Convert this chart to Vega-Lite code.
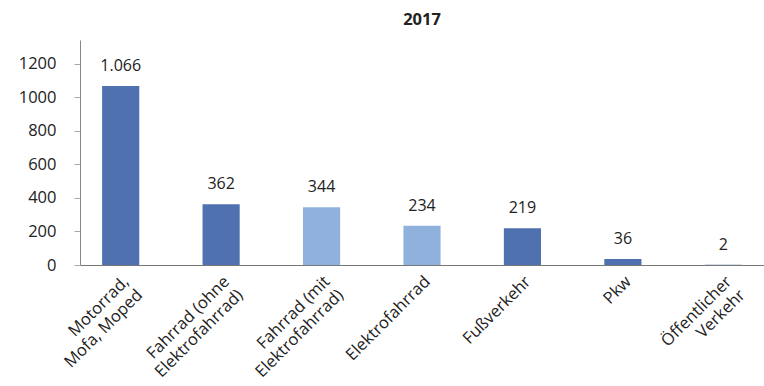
{
  "$schema": "https://vega.github.io/schema/vega-lite/v6.json",
  "autosize": "none",
  "width": 684,
  "height": 225,
  "padding": {"left": 80, "top": 40, "right": 0, "bottom": 121},
  "background": "white",
  "title": {"text": "2017", "fontSize": 16.5, "font": "Open Sans", "fontWeight": "bold", "color": "#222", "offset": 12, "anchor": "middle"},
  "config": {"view": {"stroke": null}, "font": "Open Sans"},
  "data": {"values": [
    {"cat": "Motorrad,|Mofa, Moped", "value": 1066, "label": "1.066", "group": "dunkel"},
    {"cat": "Fahrrad (ohne|Elektrofahrrad)", "value": 362, "label": "362", "group": "dunkel"},
    {"cat": "Fahrrad (mit|Elektrofahrrad)", "value": 344, "label": "344", "group": "hell"},
    {"cat": "Elektrofahrrad", "value": 234, "label": "234", "group": "hell"},
    {"cat": "Fußverkehr", "value": 219, "label": "219", "group": "dunkel"},
    {"cat": "Pkw", "value": 36, "label": "36", "group": "dunkel"},
    {"cat": "Öffentlicher|Verkehr", "value": 2, "label": "2", "group": "dunkel"}
  ]},
  "encoding": {
    "x": {"field": "cat", "type": "nominal", "sort": null, "title": null,
      "scale": {"paddingInner": 0.63, "paddingOuter": 0.22},
      "axis": {"labelAngle": -45, "labelAlign": "right", "labelBaseline": "top", "labelFontSize": 16.5, "labelColor": "#222", "labelFont": "Open Sans",
        "labelExpr": "split(datum.value, '|')", "labelLineHeight": 19, "ticks": false, "labelPadding": 8,
        "domainColor": "#777", "domainWidth": 1.2, "labelOverlap": false, "labelLimit": 0}},
    "y": {"field": "value", "type": "quantitative", "title": null,
      "scale": {"domain": [0, 1340], "nice": false},
      "axis": {"values": [0, 200, 400, 600, 800, 1000, 1200], "format": "d", "grid": false, "labelFontSize": 16.5, "labelColor": "#222", "labelFont": "Open Sans",
        "tickSize": 6, "tickColor": "#aaa", "labelPadding": 18, "domainColor": "#888"}}
  },
  "layer": [
    {"mark": {"type": "bar"},
     "encoding": {"color": {"field": "group", "type": "nominal", "legend": null,
        "scale": {"domain": ["dunkel", "hell"], "range": ["#5071b0", "#8fb1db"]}}}},
    {"mark": {"type": "text", "baseline": "bottom", "dy": -12, "fontSize": 16, "font": "Open Sans", "color": "#222"},
     "encoding": {"text": {"field": "label"}}}
  ]
}
